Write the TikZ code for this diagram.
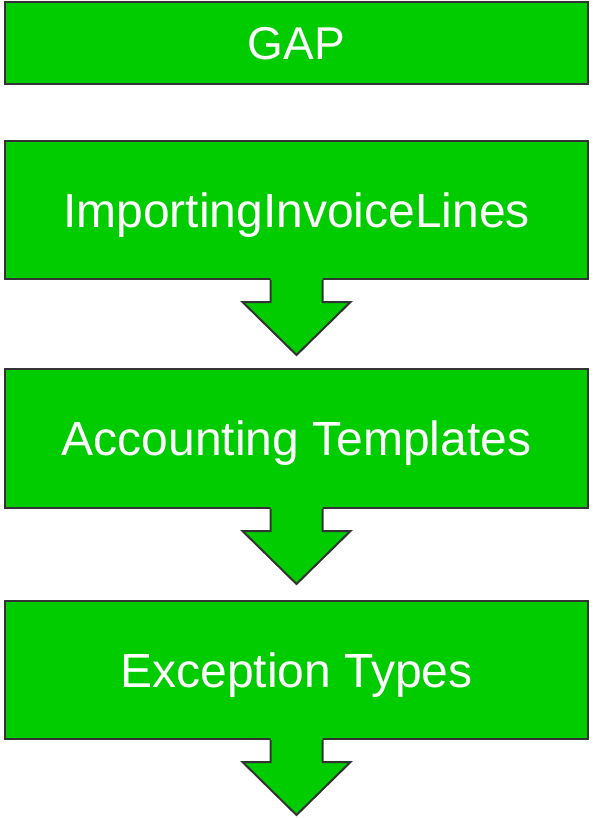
\documentclass[tikz,border=0pt]{standalone}
\usepackage{fontspec}
\setmainfont{Liberation Sans}
\usetikzlibrary{calc}
\definecolor{boxgreen}{RGB}{0,204,0}
\definecolor{boxline}{RGB}{51,51,51}
\begin{document}
\begin{tikzpicture}[x=1pt,y=-1pt,
    stepbox/.style ={rectangle, draw=boxline, line width=2pt, fill=boxgreen,
      text=white, minimum width=583pt, inner sep=0pt,
      text height=34.5pt, text depth=0pt,
      font=\fontsize{48}{56}\selectfont},
    arrowline/.style ={draw=boxline, line width=2pt, line join=miter}]
    \useasboundingbox (0,0) rectangle (593,818);
    % the boxes
    \node [stepbox, minimum height=82pt, text height=33pt,
      font=\fontsize{46}{54}\selectfont] (gap) at (296.5,43) {GAP};
    \node [stepbox, minimum height=138pt] (importing) at (296.5,210) {ImportingInvoiceLines};
    \node [stepbox, minimum height=139pt] (accounting) at (296.5,438.5) {Accounting Templates};
    \node [stepbox, minimum height=138pt] (exception) at (296.5,670) {Exception Types};
    % block arrows hanging below the boxes
    \foreach \stepname in {importing,accounting,exception} {
      \fill [boxgreen] ($(\stepname.south)+(-26,-2)$) -- ++(0,24) -- ++(-28,0)
        -- ++(54,53) -- ++(54,-53) -- ++(-28,0) -- ++(0,-24) -- cycle;
      \path [arrowline] ($(\stepname.south)+(-26,0)$) -- ++(0,22) -- ++(-28,0)
        -- ++(54,53) -- ++(54,-53) -- ++(-28,0) -- ++(0,-22);
    }
  \end{tikzpicture}
\end{document}
